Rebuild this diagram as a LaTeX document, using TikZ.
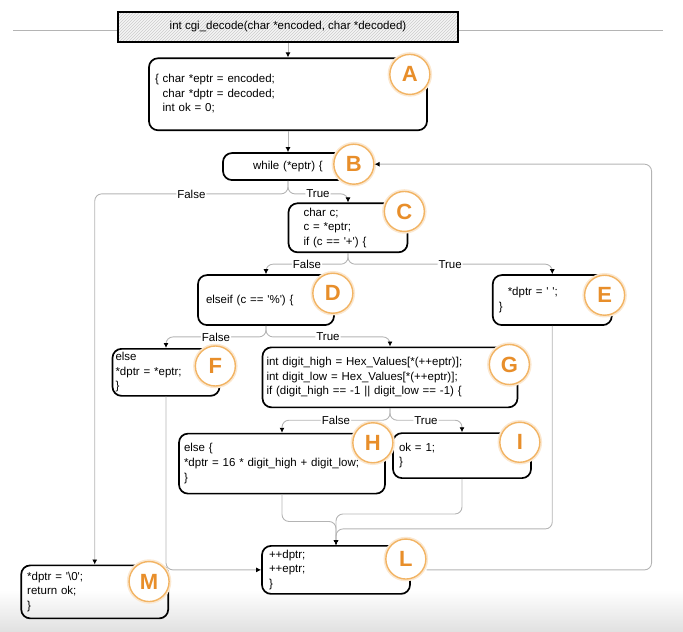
\documentclass[tikz,border=0pt]{standalone}
\usepackage{fontspec}
\setmainfont{Liberation Sans}
\usepackage{xcolor}
\definecolor{corange}{RGB}{232,142,42}
\definecolor{cring}{RGB}{242,180,100}
\definecolor{cgray}{RGB}{180,180,180}
\usepackage{tikz}
\usetikzlibrary{arrows.meta, patterns, positioning}
\newcommand{\Code}{\fontsize{11.5}{14.6}\selectfont}
\tikzset{
node distance=1in,
Stmt/.style={
	draw, line width=1.7pt,
	rounded corners=9pt,
	align=left,
	inner xsep=6pt, inner ysep=3pt,
	font=\Code
},
Header/.style={
	draw, line width=1.7pt,
	minimum width=340pt, minimum height=30pt,
	preaction={fill=gray!8},
	pattern=north east lines, pattern color=gray!40,
	font=\Code
},
Tag/.style={
	circle, draw=cring, line width=1.4pt,
	fill=white, minimum size=40pt, inner sep=0pt,
	text=corange, font=\bfseries\fontsize{22}{22}\selectfont,
	preaction={draw=cring!30, line width=4.5pt}
},
Flow/.style={
	draw=cgray, line width=0.9pt,
	rounded corners=7pt,
	-{Latex[color=black, length=5pt, width=5pt]}
},
Cond/.style={
	fill=white, inner sep=1pt,
	font=\Code
},
Rule/.style={
	draw=cgray, line width=1pt
}
}

\begin{document}
\begin{tikzpicture}[x=1pt, y=1pt]
	\useasboundingbox (0,0) rectangle (683,-632);
	\shade[top color=white, bottom color=black!12] (0,-590) rectangle (683,-632);
	\draw[Rule] (13,-30) -- (663,-30);

	\node[Header] (Sig) at (288,-27) {int cgi\_decode(char *encoded, char *decoded)};
	\node[Stmt, below of=Sig, yshift=5pt, text width=266pt, minimum height=72pt] (A)
		{\{ char *eptr = encoded;\\ \phantom{\{ }char *dptr = decoded;\\ \phantom{\{ }int ok = 0;};
	\node[Stmt, below of=A, align=center, text width=118pt, minimum height=27pt] (B) {while (*eptr) \{};
	\node[Stmt, below of=B, xshift=60pt, yshift=11pt, inner xsep=15pt, text width=89pt, minimum height=49pt] (C)
		{char c;\\ c = *eptr;\\ if (c == \textquotesingle+\textquotesingle) \{};
	\node[Stmt, below of=C, xshift=-82pt, inner xsep=8pt, text width=120pt, minimum height=50pt] (D)
		{elseif (c == \textquotesingle\%\textquotesingle) \{};
	\node[Stmt, right of=D, xshift=214pt, text width=107pt, minimum height=50pt] (E)
		{\hspace{9pt}*dptr = \textquotesingle\ \textquotesingle;\\ \}};
	\node[Stmt, below of=D, xshift=-100pt, inner xsep=3pt, text width=101pt, minimum height=47pt] (F)
		{else\\{}*dptr = *eptr;\\ \}};
	\node[Stmt, below of=D, xshift=124pt, yshift=-5pt, inner xsep=4pt, text width=247pt, minimum height=60pt] (G)
		{int digit\_high = Hex\_Values[*(++eptr)];\\ int digit\_low = Hex\_Values[*(++eptr)];\\ if (digit\_high == -1 || digit\_low == -1) \{};
	\node[Stmt, below of=G, xshift=-108pt, yshift=-14pt, inner xsep=5pt, text width=196pt, minimum height=60pt] (H)
		{else \{\\{}*dptr = 16 * digit\_high + digit\_low;\\ \}};
	\node[Stmt, below of=G, xshift=72pt, yshift=-6pt, text width=126pt, minimum height=45pt] (I)
		{ok = 1;\\ \}};
	\node[Stmt, below of=H, xshift=54pt, yshift=-34pt, inner xsep=7pt, text width=134pt, minimum height=48pt] (L)
		{++dptr;\\ ++eptr;\\ \}};
	\node[Stmt, left of=L, xshift=-169pt, yshift=-22pt, text width=135pt, minimum height=53pt] (M)
		{*dptr = \textquotesingle\textbackslash 0\textquotesingle;\\ return ok;\\ \}};

	\node[Tag] (Ac) at ([xshift=-18pt, yshift=-17pt]A.north east) {A};
	\node[Tag] (Bc) at ([yshift=-12pt]B.north east) {B};
	\node[Tag] (Cc) at ([xshift=-4pt, yshift=-9pt]C.north east) {C};
	\node[Tag] (Dc) at ([xshift=-2pt, yshift=-19pt]D.north east) {D};
	\node[Tag] (Ec) at ([xshift=-8pt, yshift=-21pt]E.north east) {E};
	\node[Tag] (Fc) at ([xshift=-5pt, yshift=-18pt]F.north east) {F};
	\node[Tag] (Gc) at ([xshift=-9pt, yshift=-18pt]G.north east) {G};
	\node[Tag] (Hc) at ([xshift=-13pt, yshift=-10pt]H.north east) {H};
	\node[Tag] (Ic) at ([xshift=-12pt, yshift=-10pt]I.north east) {I};
	\node[Tag] (Lc) at ([xshift=-5pt, yshift=-14pt]L.north east) {L};
	\node[Tag] (Mc) at ([xshift=-20pt, yshift=-17pt]M.north east) {M};

	\coordinate (bB) at ([yshift=-13pt]B.south);
	\coordinate (bC) at ([yshift=-11pt]C.south);
	\coordinate (bD) at ([yshift=-11pt]D.south);
	\coordinate (bG) at ([yshift=-12pt]G.south);

	\draw[Flow] (Sig) -- (A);
	\draw[Flow] (A) -- (B);
	\draw[Flow] (B.south) -- (bB) -| node[Cond, pos=0.25] {True} (C.north);
	\draw[Flow] (B.south) -- (bB) -| node[Cond, pos=0.25] {False} (M.north);
	\draw[Flow] (C.south) -- (bC) -| node[Cond, pos=0.25] {False} (D.north);
	\draw[Flow] (C.south) -- (bC) -| node[Cond, pos=0.25] {True} (E.north);
	\draw[Flow] (D.south) -- (bD) -| node[Cond, pos=0.25] {False} (F.north);
	\draw[Flow] (D.south) -- (bD) -| node[Cond, pos=0.25] {True} (G.north);
	\draw[Flow] (G.south) -- (bG) -| node[Cond, pos=0.25] {False} (H.north);
	\draw[Flow] (G.south) -- (bG) -| node[Cond, pos=0.25] {True} (I.north);
	\draw[Flow] (H.south) -- ++(0,-27) -| (L.north);
	\draw[Flow] (I.south) -- ++(0,-35) -| (L.north);
	\draw[Flow] (E.south) -- ++(0,-203) -| (L.north);
	\draw[Flow] (F.south) |- (L.west);
	\draw[Flow] (L.east -| Lc.east) -- ++(225,0) |- (Bc.east);
\end{tikzpicture}
\end{document}
